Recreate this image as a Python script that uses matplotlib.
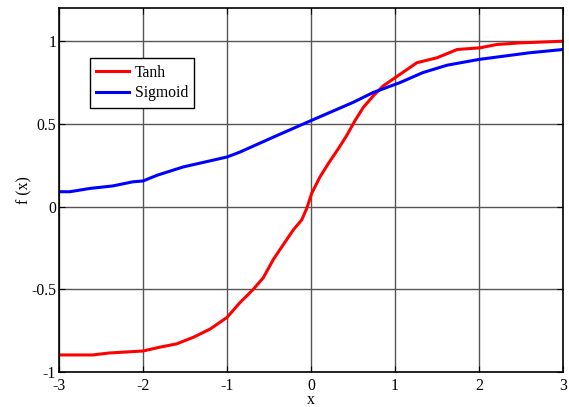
import matplotlib
matplotlib.use("Agg")
import matplotlib.pyplot as plt

plt.rcParams['font.family'] = ['Liberation Serif', 'DejaVu Serif']
plt.rcParams['axes.unicode_minus'] = False

tanh_x = [-3.0, -2.6, -2.4, -2.0, -1.8, -1.6, -1.4, -1.2, -1.0, -0.845, -0.687,
          -0.568, -0.449, -0.33, -0.21, -0.11, -0.05, 0.008, 0.107, 0.206, 0.325,
          0.425, 0.524, 0.623, 0.742, 0.86, 1.06, 1.26, 1.5, 1.74, 2.01, 2.21,
          2.49, 3.0]
tanh_y = [-0.897, -0.897, -0.885, -0.873, -0.85, -0.83, -0.79, -0.74, -0.67, -0.58,
          -0.50, -0.43, -0.32, -0.23, -0.14, -0.08, -0.01, 0.08, 0.18, 0.26, 0.35,
          0.43, 0.52, 0.60, 0.67, 0.73, 0.80, 0.87, 0.90, 0.95, 0.96, 0.98, 0.99,
          1.0]

sig_x = [-3.0, -2.87, -2.63, -2.36, -2.12, -2.0, -1.83, -1.52, -1.0, -0.845, -0.449,
         0.0, 0.5, 0.74, 1.06, 1.33, 1.62, 2.0, 2.6, 3.0]
sig_y = [0.09, 0.09, 0.11, 0.125, 0.15, 0.155, 0.19, 0.24, 0.30, 0.33, 0.42, 0.52,
         0.63, 0.69, 0.75, 0.81, 0.855, 0.89, 0.93, 0.95]

xticks = [-3, -2, -1, 0, 1, 2, 3]
yticks = [-1, -0.5, 0, 0.5, 1]
ytick_labels = ['-1', '-0.5', '0', '0.5', '1']

fs = 11.3
fig = plt.figure(figsize=(5.69, 4.07), dpi=100)
ax = fig.add_axes([0.1037, 0.086, 0.8858, 0.894])
ax.plot(tanh_x, tanh_y, color='#ff0000', lw=2.2, label='Tanh')
ax.plot(sig_x, sig_y, color='#0000ff', lw=2.2, label='Sigmoid')
ax.set_xlim(-3, 3)
ax.set_ylim(-1, 1.2)
ax.set_xticks(xticks)
ax.set_xticklabels([str(t) for t in xticks])
ax.set_yticks(yticks)
ax.set_yticklabels(ytick_labels)
ax.grid(True, color='#555555', lw=1.0)
ax.tick_params(direction='in', top=True, right=True, labelsize=fs, length=4)
ax.tick_params(axis='x', pad=4)
ax.tick_params(axis='y', pad=2)
for s in ax.spines.values():
    s.set_linewidth(1.2)
ax.set_xlabel('x', fontsize=fs, labelpad=-1)
ax.set_ylabel('f (x)', fontsize=fs, labelpad=-1)
leg = ax.legend(loc='upper left', bbox_to_anchor=(0.0615, 0.862), borderaxespad=0,
                fontsize=fs, fancybox=False, edgecolor='black', framealpha=1,
                borderpad=0.4, handlelength=2.1, handletextpad=0.35,
                labelspacing=0.3)
leg.get_frame().set_linewidth(1.0)
fig.savefig('out.png', dpi=100)
